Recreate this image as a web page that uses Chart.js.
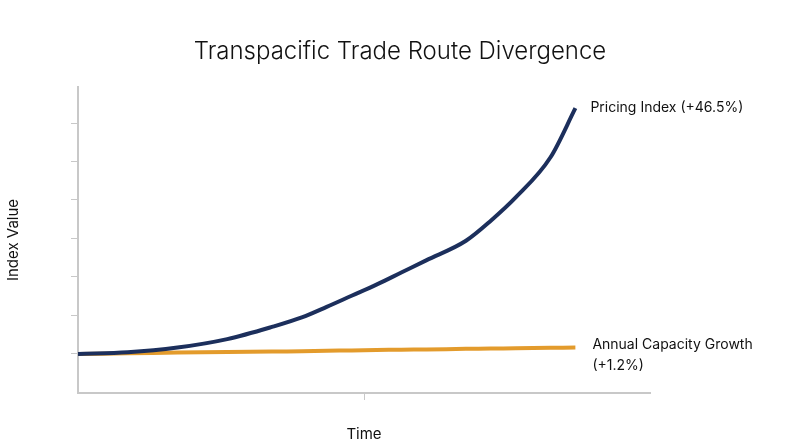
<!DOCTYPE html>
<html>
<head>
<meta charset="utf-8">
<script src="https://cdn.jsdelivr.net/npm/chart.js@4.4.0/dist/chart.umd.min.js"></script>
<style>
  html, body { margin: 0; padding: 0; background: #fff; }
  #wrap { width: 800px; height: 447px; }
</style>
</head>
<body>
<div id="wrap"><canvas id="chart"></canvas></div>
<script>
// Values (time as share of the period, index based at 100)
const timePoints = [0, 0.1, 0.2, 0.3, 0.39, 0.45, 0.5, 0.55, 0.6, 0.65, 0.7, 0.78, 0.83, 0.88, 0.95, 1];
const pricingIndex = [100, 100.3, 101.2, 102.8, 105.1, 106.9, 108.9, 111.0, 13.1 + 100, 115.4, 117.7, 121.4, 125.2, 129.6, 137.2, 146.5];
const capacityIndex = [100, 100.1, 100.25, 100.35, 100.45, 100.5, 100.6, 100.65, 100.75, 100.8, 100.85, 100.95, 101.0, 101.05, 101.15, 101.2];
const yTickValues = [100, 107.28, 114.56, 121.84, 129.12, 136.4, 143.68];
const xTickValues = [0.575];
const endLabels = [["Pricing Index (+46.5%)"], ["Annual Capacity Growth", "(+1.2%)"]];

const FONT = "Inter, 'Noto Sans', sans-serif";

// Title and end-of-line labels
const annotate = {
  id: "annotate",
  afterDraw(chart) {
    const ctx = chart.ctx;
    ctx.save();
    ctx.fillStyle = "#111";
    ctx.font = "300 24px " + FONT;
    ctx.textAlign = "center";
    ctx.textBaseline = "middle";
    ctx.fillText("Transpacific Trade Route Divergence", 400, 52);

    ctx.font = "14px " + FONT;
    ctx.textAlign = "left";
    chart.data.datasets.forEach((ds, i) => {
      const meta = chart.getDatasetMeta(i);
      const last = meta.data[meta.data.length - 1];
      const lines = endLabels[i];
      const x = last.x + (i === 0 ? 15 : 17);
      const y0 = i === 0 ? last.y : last.y - 3;
      lines.forEach((t, j) => ctx.fillText(t, x, y0 + j * 21));
    });
    ctx.restore();
  }
};

new Chart(document.getElementById("chart"), {
  type: "line",
  data: {
    datasets: [
      {
        label: "Pricing Index",
        data: timePoints.map((t, i) => ({ x: t, y: pricingIndex[i] })),
        borderColor: "#1c2f5c",
        borderWidth: 4,
        pointRadius: 0,
        tension: 0.4,
        cubicInterpolationMode: "monotone"
      },
      {
        label: "Annual Capacity Growth",
        data: timePoints.map((t, i) => ({ x: t, y: capacityIndex[i] })),
        borderColor: "#e39b2c",
        borderWidth: 4,
        pointRadius: 0,
        tension: 0.4
      }
    ]
  },
  options: {
    responsive: true,
    maintainAspectRatio: false,
    animation: false,
    layout: { padding: { top: 87, right: 150, left: 0, bottom: 0 } },
    plugins: { legend: { display: false }, tooltip: { enabled: false } },
    scales: {
      x: {
        type: "linear",
        min: 0,
        max: 1.15,
        afterBuildTicks: s => { s.ticks = xTickValues.map(v => ({ value: v })); },
        afterFit: s => { s.height = 54; },
        ticks: { display: false },
        grid: { drawOnChartArea: false, drawTicks: true, tickLength: 7, color: "#c8c8c8" },
        border: { color: "#c8c8c8", width: 2 },
        title: { display: true, text: "Time", font: { family: FONT, size: 15 }, color: "#111", padding: { top: 4 } }
      },
      y: {
        min: 92.6,
        max: 150.5,
        afterBuildTicks: s => { s.ticks = yTickValues.map(v => ({ value: v })); },
        afterFit: s => { s.width = 78; },
        ticks: { display: false },
        grid: { drawOnChartArea: false, drawTicks: true, tickLength: 7, color: "#c8c8c8" },
        border: { color: "#c8c8c8", width: 2 },
        title: { display: true, text: "Index Value", font: { family: FONT, size: 15 }, color: "#111", padding: { bottom: 20 } }
      }
    }
  },
  plugins: [annotate]
});
</script>
</body>
</html>
